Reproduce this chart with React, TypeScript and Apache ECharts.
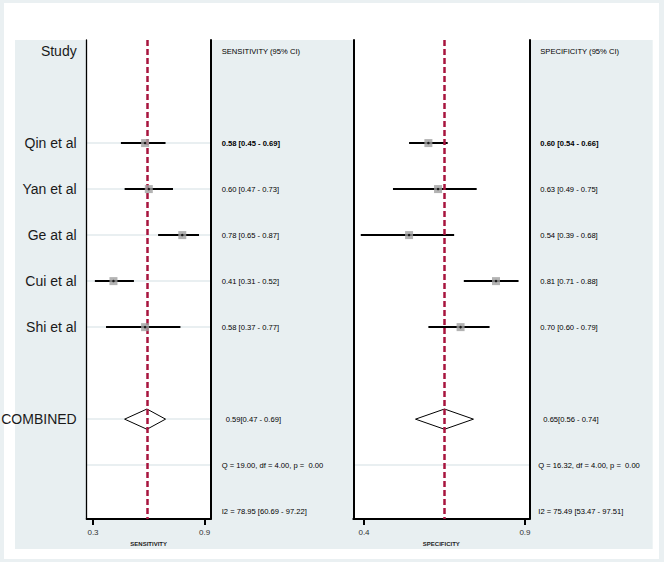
import React, { useEffect, useRef } from "react";
import * as echarts from "echarts";

const studies = ["Qin et al", "Yan et al", "Ge at al", "Cui et al", "Shi et al"];
const studyRows = [2, 3, 4, 5, 6];
const sensEst = [0.58, 0.6, 0.78, 0.41, 0.58];
const sensLo = [0.45, 0.47, 0.65, 0.31, 0.37];
const sensHi = [0.69, 0.73, 0.87, 0.52, 0.77];
const specEst = [0.6, 0.63, 0.54, 0.81, 0.7];
const specLo = [0.54, 0.49, 0.39, 0.71, 0.6];
const specHi = [0.66, 0.75, 0.68, 0.88, 0.79];
const sensCombined = [0.59, 0.47, 0.69];
const specCombined = [0.65, 0.56, 0.74];
const sensHet = ["Q = 19.00, df = 4.00, p =  0.00", "I2 = 78.95 [60.69 - 97.22]"];
const specHet = ["Q = 16.32, df = 4.00, p =  0.00", "I2 = 75.49 [53.47 - 97.51]"];
const sensTicks = [0.3, 0.9];
const specTicks = [0.4, 0.9];
const headerRow = 0;
const combinedRow = 8;
const qRow = 9;
const i2Row = 10;

const FONT = "'Liberation Sans', Arial, sans-serif";
const RED = "#a8143e";
const Y_MIN = -0.24;
const Y_MAX = 10.17;

const f2 = (v: number) => v.toFixed(2);

function ciColumn(title: string, est: number[], lo: number[], hi: number[], comb: number[], het: string[]) {
  const map: Record<number, string> = {};
  map[headerRow] = `{h|${title}}`;
  studyRows.forEach((r, i) => {
    const t = `${f2(est[i])} [${f2(lo[i])} - ${f2(hi[i])}]`;
    map[r] = i === 0 ? `{b|${t}}` : `{n|${t}}`;
  });
  map[combinedRow] = `{c|${f2(comb[0])}[${f2(comb[1])} - ${f2(comb[2])}]}`;
  map[qRow] = `{q|${het[0]}}`;
  map[i2Row] = `{q|${het[1]}}`;
  return map;
}

function richStyles(rowPad: number, combPad: number) {
  const base = { fontFamily: FONT, fontSize: 7.6, color: "#000" };
  return {
    h: { ...base, padding: [0, 0, 0, rowPad] },
    n: { ...base, padding: [0, 0, 0, rowPad] },
    b: { ...base, fontWeight: "bold", padding: [0, 0, 0, rowPad] },
    c: { ...base, padding: [0, 0, 0, combPad] },
    q: { ...base, padding: [0, 0, 0, 0] },
  };
}

function ciLineSeries(xi: number, lo: number[], hi: number[]) {
  return {
    type: "custom",
    xAxisIndex: xi,
    yAxisIndex: xi * 2,
    z: 2,
    data: studyRows.map((r, i) => [lo[i], hi[i], r]),
    encode: { x: [0, 1], y: 2 },
    renderItem: (params: any, api: any) => {
      const a = api.coord([api.value(0), api.value(2)]);
      const b = api.coord([api.value(1), api.value(2)]);
      return {
        type: "line",
        shape: { x1: a[0], y1: a[1], x2: b[0], y2: b[1] },
        style: { stroke: "#000", lineWidth: 2 },
      };
    },
  };
}

function diamondSeries(xi: number, comb: number[]) {
  return {
    type: "custom",
    xAxisIndex: xi,
    yAxisIndex: xi * 2,
    z: 1,
    data: [[comb[0], comb[1], comb[2], combinedRow]],
    encode: { x: [0, 1, 2], y: 3 },
    renderItem: (params: any, api: any) => {
      const row = api.value(3);
      const l = api.coord([api.value(1), row]);
      const t = api.coord([api.value(0), row - 0.22]);
      const r = api.coord([api.value(2), row]);
      const b = api.coord([api.value(0), row + 0.22]);
      return {
        type: "polygon",
        shape: { points: [l, t, r, b] },
        style: { fill: "#fff", stroke: "#000", lineWidth: 1 },
      };
    },
  };
}

function markerSeries(xi: number, est: number[]) {
  const data = studyRows.map((r, i) => [est[i], r]);
  return [
    {
      type: "scatter",
      xAxisIndex: xi,
      yAxisIndex: xi * 2,
      z: 4,
      symbol: "rect",
      symbolSize: 8,
      itemStyle: { color: "#a0a0a0" },
      data,
    },
    {
      type: "scatter",
      xAxisIndex: xi,
      yAxisIndex: xi * 2,
      z: 5,
      symbol: "circle",
      symbolSize: 2.5,
      itemStyle: { color: "#000" },
      data,
    },
  ];
}

function refLineSeries(xi: number, value: number) {
  return {
    type: "scatter",
    xAxisIndex: xi,
    yAxisIndex: xi * 2,
    z: 3,
    data: [],
    markLine: {
      z: 3,
      silent: true,
      symbol: ["none", "none"],
      label: { show: false },
      lineStyle: { color: RED, width: 2.5, type: [6, 3] },
      data: [{ xAxis: value }],
    },
  };
}

function rowLineSeries(xi: number, rows: number[]) {
  return {
    type: "scatter",
    xAxisIndex: xi,
    yAxisIndex: xi * 2,
    z: 0,
    data: [],
    markLine: {
      z: 0,
      silent: true,
      symbol: ["none", "none"],
      label: { show: false },
      lineStyle: { color: "#e9eff1", width: 2, type: "solid" },
      data: rows.map((r) => ({ yAxis: r })),
    },
  };
}

function xAxisDef(gi: number, min: number, max: number, ticks: number[], name: string) {
  return {
    gridIndex: gi,
    type: "value",
    min,
    max,
    position: "bottom",
    axisLine: { show: true, onZero: false, lineStyle: { color: "#000", width: 2 } },
    axisTick: { show: true, customValues: ticks, length: 6, inside: false, lineStyle: { color: "#000", width: 2 } },
    axisLabel: {
      customValues: ticks,
      formatter: (v: number) => v.toFixed(1),
      fontSize: 8,
      margin: 9,
      color: "#333",
      fontFamily: FONT,
    },
    splitLine: { show: false },
    name,
    nameLocation: "middle",
    nameGap: 19,
    nameTextStyle: { fontSize: 6, fontWeight: "bold", color: "#222", fontFamily: FONT },
  };
}

export default function App() {
  const ref = useRef<HTMLDivElement>(null);
  useEffect(() => {
    document.body.style.margin = "0";
    if (!ref.current) return;
    const chart = echarts.init(ref.current, undefined, { renderer: "svg" });

    const nameMap: Record<number, string> = { [headerRow]: "Study", [combinedRow]: "COMBINED" };
    studyRows.forEach((r, i) => (nameMap[r] = studies[i]));
    const sensMap = ciColumn("SENSITIVITY (95% CI)", sensEst, sensLo, sensHi, sensCombined, sensHet);
    const specMap = ciColumn("SPECIFICITY (95% CI)", specEst, specLo, specHi, specCombined, specHet);
    const textRows = [headerRow, ...studyRows, combinedRow, qRow, i2Row];

    const yBase = (gi: number, pos: string, width: number) => ({
      gridIndex: gi,
      type: "value",
      inverse: true,
      min: Y_MIN,
      max: Y_MAX,
      position: pos,
      axisLine: { show: true, onZero: false, lineStyle: { color: "#000", width } },
      axisTick: { show: false },
      splitLine: { show: false },
    });

    const option: any = {
      animation: false,
      backgroundColor: "#eaf0f2",
      graphic: {
        elements: [
          { type: "rect", z: -20, silent: true, shape: { x: 4, y: 3, width: 655, height: 556 }, style: { fill: "#ffffff" } },
          { type: "rect", z: -19, silent: true, shape: { x: 15, y: 40, width: 637.7, height: 509 }, style: { fill: "#e8eff1" } },
        ],
      },
      grid: [
        { left: 86.7, top: 40, width: 124, height: 479, show: true, backgroundColor: "#fff", borderWidth: 0, containLabel: false, outerBoundsMode: "none" },
        { left: 353.3, top: 40, width: 176, height: 479, show: true, backgroundColor: "#fff", borderWidth: 0, containLabel: false, outerBoundsMode: "none" },
      ],
      xAxis: [
        xAxisDef(0, 0.2661, 0.9328, sensTicks, "SENSITIVITY"),
        xAxisDef(1, 0.3668, 0.9134, specTicks, "SPECIFICITY"),
      ],
      yAxis: [
        {
          ...yBase(0, "left", 1.3),
          axisLabel: {
            customValues: [headerRow, ...studyRows, combinedRow],
            formatter: (v: number) => nameMap[Math.round(v)] || "",
            fontSize: 14,
            margin: 10,
            color: "#1a1a1a",
            fontFamily: FONT,
          },
        },
        {
          ...yBase(0, "right", 2),
          axisLabel: {
            customValues: textRows,
            formatter: (v: number) => sensMap[Math.round(v)] || "",
            margin: 11,
            align: "left",
            rich: richStyles(0, 4),
          },
        },
        { ...yBase(1, "left", 2), axisLabel: { show: false } },
        {
          ...yBase(1, "right", 2),
          axisLabel: {
            customValues: textRows,
            formatter: (v: number) => specMap[Math.round(v)] || "",
            margin: 9,
            align: "left",
            rich: richStyles(2, 5),
          },
        },
      ],
      series: [
        rowLineSeries(0, [...studyRows, combinedRow, qRow]),
        rowLineSeries(1, [qRow]),
        diamondSeries(0, sensCombined),
        diamondSeries(1, specCombined),
        ciLineSeries(0, sensLo, sensHi),
        ciLineSeries(1, specLo, specHi),
        refLineSeries(0, sensCombined[0]),
        refLineSeries(1, specCombined[0]),
        ...markerSeries(0, sensEst),
        ...markerSeries(1, specEst),
      ],
    };
    chart.setOption(option);
    return () => chart.dispose();
  }, []);
  return <div ref={ref} style={{ width: 664, height: 562 }} />;
}
